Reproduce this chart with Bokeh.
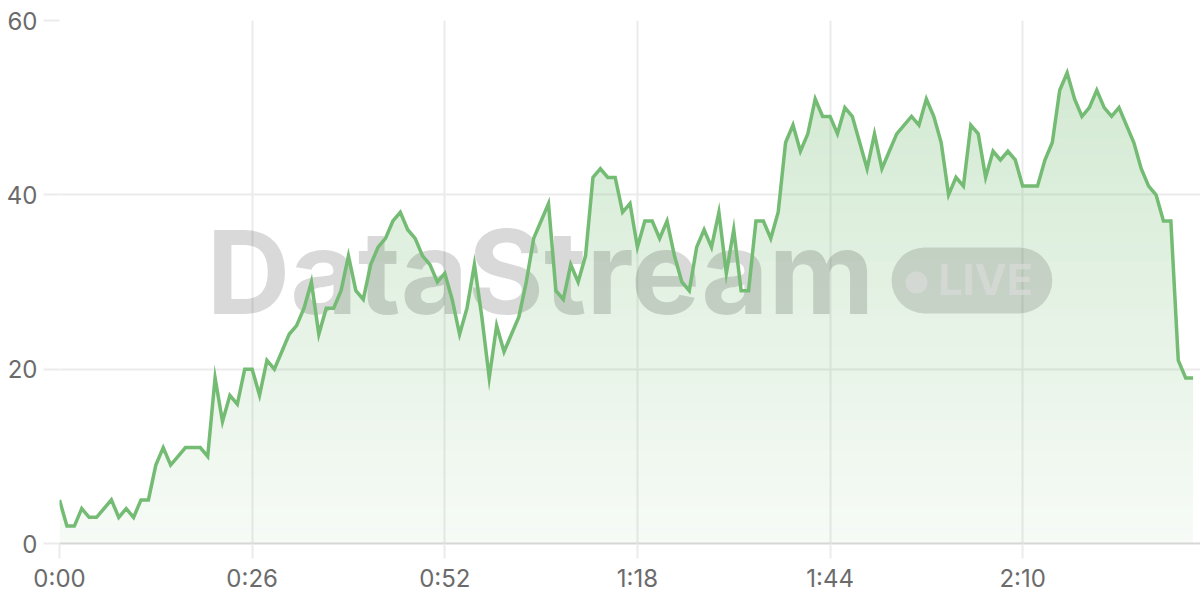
import numpy as np
from bokeh.plotting import figure
from bokeh.models import Range1d, FixedTicker, BoxAnnotation
from bokeh.core.properties import value
from bokeh.embed import file_html
from bokeh.resources import INLINE

# ---- data (one value per second) ----
values = [
    5, 2, 2, 4, 3, 3, 4, 5, 3, 4,
    3, 5, 5, 9, 11, 9, 10, 11, 11, 11,
    10, 19, 14, 17, 16, 20, 20, 17, 21, 20,
    22, 24, 25, 27, 30, 24, 27, 27, 29, 33,
    29, 28, 32, 34, 35, 37, 38, 36, 35, 33,
    32, 30, 31, 28, 24, 27, 32, 26, 19, 25,
    22, 24, 26, 30, 35, 37, 39, 29, 28, 32,
    30, 33, 42, 43, 42, 42, 38, 39, 34, 37,
    37, 35, 37, 33, 30, 29, 34, 36, 34, 38,
    31, 36, 29, 29, 37, 37, 35, 38, 46, 48,
    45, 47, 51, 49, 49, 47, 50, 49, 46, 43,
    47, 43, 45, 47, 48, 49, 48, 51, 49, 46,
    40, 42, 41, 48, 47, 42, 45, 44, 45, 44,
    41, 41, 41, 44, 46, 52, 54, 51, 49, 50,
    52, 50, 49, 50, 48, 46, 43, 41, 40, 37,
    37, 21, 19, 19,
]
seconds = list(range(len(values)))
xtick_values = [0, 26, 52, 78, 104, 130]
xtick_labels = ["0:00", "0:26", "0:52", "1:18", "1:44", "2:10"]
ytick_values = [0, 20, 40, 60]

GREEN = "#74bb74"
GRID = "#ebebeb"
LABEL = "#6b6b6b"
FONT = "Inter"

p = figure(width=1200, height=600, output_backend="svg", toolbar_location=None,
           x_range=Range1d(0, 154), y_range=Range1d(0, 60),
           min_border_left=59, min_border_right=0, min_border_top=20, min_border_bottom=57)
p.outline_line_color = None
p.background_fill_color = "white"
p.border_fill_color = "white"

# grid
p.xgrid.ticker = FixedTicker(ticks=xtick_values)
p.ygrid.ticker = FixedTicker(ticks=ytick_values)
for g in (p.xgrid, p.ygrid):
    g.grid_line_color = GRID
    g.grid_line_width = 2

# axes
p.xaxis.ticker = FixedTicker(ticks=xtick_values)
p.xaxis.major_label_overrides = {v: l for v, l in zip(xtick_values, xtick_labels)}
p.yaxis.ticker = FixedTicker(ticks=ytick_values)
p.xaxis.axis_line_color = "#d6d6d6"
p.xaxis.axis_line_width = 2
p.yaxis.axis_line_color = None
for ax, out, stand in ((p.xaxis, 15, 5), (p.yaxis, 16, 6)):
    ax.major_tick_out = out
    ax.major_tick_in = 0
    ax.major_tick_line_color = GRID
    ax.major_tick_line_width = 2
    ax.minor_tick_line_color = None
    ax.major_label_text_font = FONT
    ax.major_label_text_font_size = "24px"
    ax.major_label_text_color = LABEL
    ax.major_label_standoff = stand

# gradient area: horizontal bands, alpha growing with height
v = np.array(values, dtype=float)
vmax = v.max()
n = 50
a_bottom, a_top = 0.06, 0.32
for k in range(n):
    lo = vmax * k / n
    hi = vmax * (k + 1) / n
    alpha = a_bottom + (a_top - a_bottom) * (k + 0.5) / n
    p.varea(x=seconds, y1=np.minimum(v, lo), y2=np.minimum(v, hi),
            fill_color=GREEN, fill_alpha=alpha)

# watermark
p.text(x=[19.85], y=[31.1], text=["DataStream"], text_font=value(FONT),
       text_font_style="bold", text_font_size="116px", text_color="black",
       text_alpha=0.15, text_align="left", text_baseline="alphabetic")
p.scatter(x=[115.67], y=[29.94], size=22, marker="circle", fill_color="white",
          fill_alpha=0.6, line_alpha=0)
p.text(x=[118.6], y=[30.4], text=["LIVE"], text_font=value(FONT),
       text_font_style="bold", text_font_size="43px", text_color="white",
       text_alpha=0.6, text_align="left", text_baseline="alphabetic")
pill = BoxAnnotation(left=112.3, right=134.0, top=33.96, bottom=26.4,
                     border_radius=33, fill_color="black", fill_alpha=0.13,
                     line_alpha=0)
p.add_layout(pill)

# line
p.line(x=seconds, y=values, line_color=GREEN, line_width=3.5, line_join="miter")

open("out.html", "w").write(file_html(p, INLINE))
